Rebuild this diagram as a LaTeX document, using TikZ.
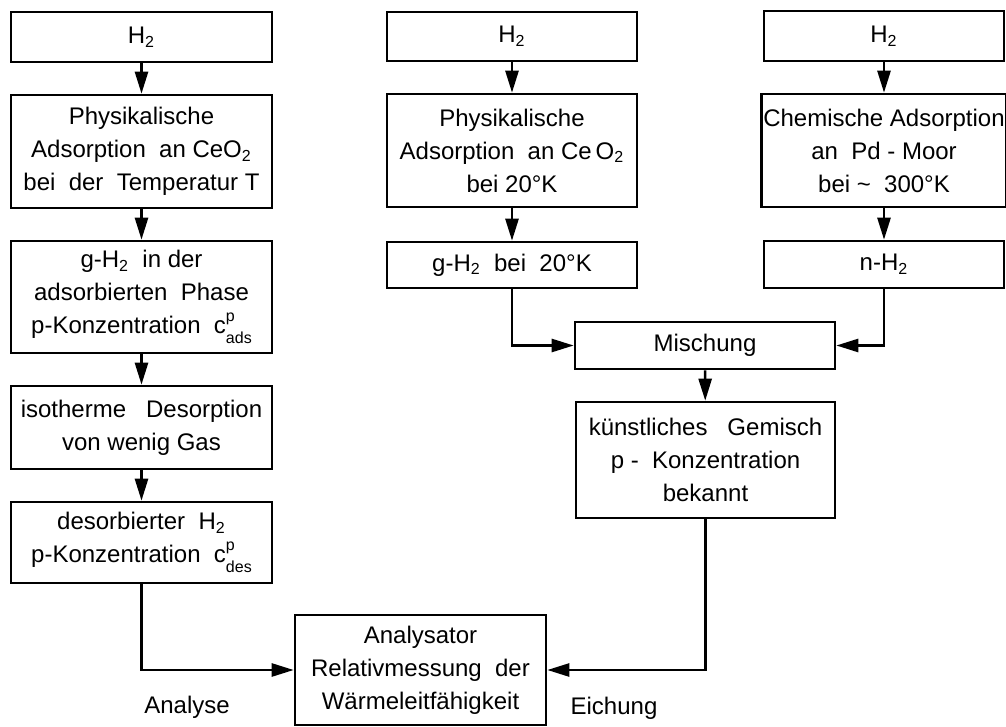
\documentclass[tikz,border=0pt]{standalone}
\usepackage{fontspec}
\setmainfont{Liberation Sans}
\usetikzlibrary{arrows.meta, positioning}
\tikzstyle{arrow} = [line width=1.3pt, -{Triangle[length=11pt, width=6.5pt]}]
\newcommand{\Htwo}{H\textsubscript{2}}
\newcommand{\pconc}[1]{c\rlap{\raisebox{0.95ex}{\fontsize{8}{8}\selectfont p}}\raisebox{-0.75ex}{\fontsize{8}{8}\selectfont #1}}

\begin{document}
\begin{tikzpicture}[x=0.5pt, y=-0.5pt,
    box/.style={rectangle, draw, line width=1.3pt, align=center, inner sep=1pt, font=\fontsize{12}{16.5}\selectfont},
    leftbox/.style={box, minimum width=130.5pt},
    midbox/.style={box, minimum width=125pt},
    rightbox/.style={box, minimum width=120pt},
    label/.style={font=\fontsize{12}{16.5}\selectfont},
]
\useasboundingbox (0,0) rectangle (1006,727);

% Analyse branch
\node[leftbox, minimum height=25pt] (h2L) at (141.5, 37) {\Htwo};
\node[leftbox, minimum height=56.5pt] (physL) at (141.5, 151.5) {Physikalische\\Adsorption\ \ an CeO\textsubscript{2}\\bei\ \ der\ \ Temperatur T};
\node[leftbox, minimum height=56pt] (gasL) at (141.5, 297) {g-\Htwo\ \ in der\\adsorbierten\ \ Phase\\p-Konzentration\ \ \pconc{ads}};
\node[leftbox, minimum height=41.5pt] (desorp) at (141.5, 427.5) {isotherme\ \ \ Desorption\\von\ wenig Gas};
\node[leftbox, minimum height=40.5pt] (desorb) at (141.5, 542.5) {desorbierter\ \ \Htwo\\p-Konzentration\ \ \pconc{des}};

% Physical adsorption branch
\node[midbox, minimum height=24.5pt] (h2M) at (512, 36.5) {\Htwo};
\node[midbox, minimum height=56.5pt] (physM) at (512, 150.5) {Physikalische\\Adsorption\ \ an Ce\,O\textsubscript{2}\\bei 20°K};
\node[midbox, minimum height=23pt] (gasM) at (512, 265) {g-\Htwo\ \ bei\ \ 20°K};

% Chemical adsorption branch
\node[rightbox, minimum height=25pt] (h2R) at (884, 36) {\Htwo};
\node[rightbox, minimum height=56.5pt] (chemR) at (884, 150.5) {Chemische Adsorption\\an\ \ Pd - Moor\\bei \textasciitilde\ \ 300°K};
\node[rightbox, minimum height=23.5pt] (normR) at (884, 264.5) {n-\Htwo};

% Calibration
\node[box, minimum width=130pt, minimum height=23.5pt] (misch) at (705, 345.5) {Mischung};
\node[box, minimum width=129.5pt, minimum height=58pt] (gemisch) at (705.5, 460) {künstliches\ \ \ Gemisch\\p -\ \ Konzentration\\bekannt};

% Analyser
\node[box, minimum width=125.5pt, minimum height=55pt] (analys) at (420.5, 670) {Analysator\\Relativmessung\ \ der\\Wärmeleitfähigkeit};
\node[label] (analyse) at (187, 707) {Analyse};
\node[label] (eichung) at (614, 708) {Eichung};

% Arrows
\draw[arrow] (h2L) -- (physL);
\draw[arrow] (physL) -- (gasL);
\draw[arrow] (gasL) -- (desorp);
\draw[arrow] (desorp) -- (desorb);
\draw[arrow] (h2M) -- (physM);
\draw[arrow] (physM) -- (gasM);
\draw[arrow] (h2R) -- (chemR);
\draw[arrow] (chemR) -- (normR);
\draw[arrow] (gasM.south) |- (misch.west);
\draw[arrow] (normR.south) |- (misch.east);
\draw[arrow] (misch) -- (gemisch);
\draw[arrow] (desorb.south) |- (analys.west);
\draw[arrow] (gemisch.south) |- (analys.east);

\end{tikzpicture}
\end{document}
